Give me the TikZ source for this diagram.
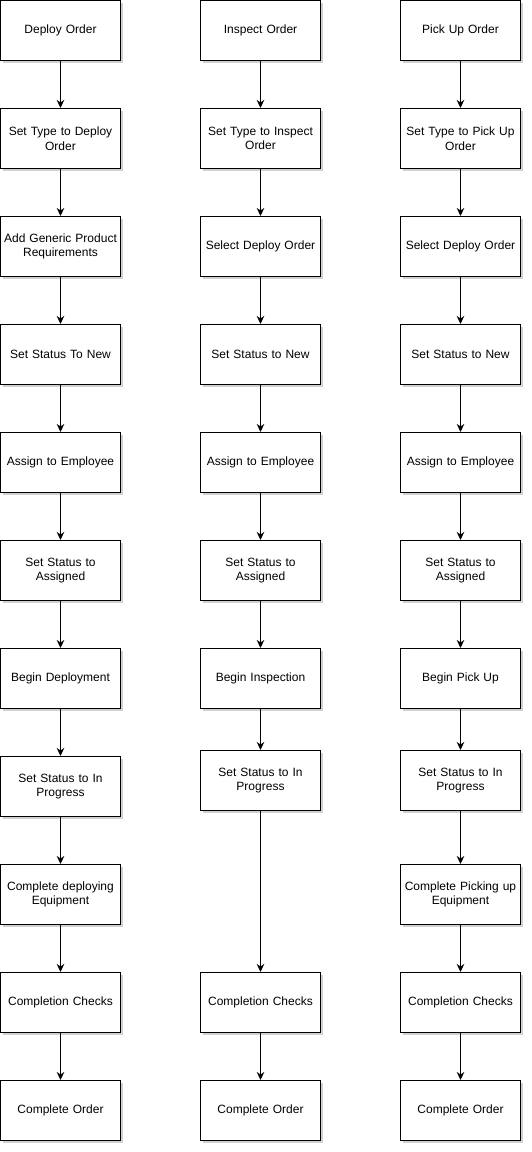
\documentclass[tikz,border=0pt]{standalone}
\usepackage{fontspec}
\setmainfont{Liberation Sans}
\usetikzlibrary{arrows.meta,shadows}

\begin{document}
\begin{tikzpicture}[->,>={Stealth[length=8pt,width=7.5pt,inset=2.5pt]},x=1pt,y=1pt,node distance=108pt,line width=1pt]
  \tikzstyle{task}=[draw,fill=white,minimum width=120pt,minimum height=60pt,text width=116pt,inner xsep=2pt,align=center,
    font=\fontsize{12}{14.5}\selectfont,drop shadow={shadow xshift=2pt,shadow yshift=-2pt,opacity=0.18,fill=black}]
  \useasboundingbox (0,0) rectangle (532,-1152);

  % deploy
  \node[task] (D1) at (60.5,-30.5) {Deploy Order};
  \node[task] (D2) [below of=D1] {Set Type to Deploy\\Order};
  \node[task] (D3) [below of=D2] {Add Generic Product\\Requirements};
  \node[task] (D4) [below of=D3] {Set Status To New};
  \node[task] (D5) [below of=D4] {Assign to Employee};
  \node[task] (D6) [below of=D5] {Set Status to\\Assigned};
  \node[task] (D7) [below of=D6] {Begin Deployment};
  \node[task] (D8) [below of=D7] {Set Status to In\\Progress};
  \node[task] (D9) [below of=D8] {Complete deploying\\Equipment};
  \node[task] (D10) [below of=D9] {Completion Checks};
  \node[task] (D11) [below of=D10] {Complete Order};

  % inspect
  \node[task] (I1) at (260.5,-30.5) {Inspect Order};
  \node[task] (I2) [below of=I1] {Set Type to Inspect\\Order};
  \node[task] (I3) [below of=I2] {Select Deploy Order};
  \node[task] (I4) [below of=I3] {Set Status to New};
  \node[task] (I5) [below of=I4] {Assign to Employee};
  \node[task] (I6) [below of=I5] {Set Status to\\Assigned};
  \node[task] (I7) [below of=I6] {Begin Inspection};
  \node[task] (I8) [below of=I7,node distance=102pt] {Set Status to In\\Progress};
  \node[task] (I9) [below of=I8,node distance=222pt] {Completion Checks};
  \node[task] (I10) [below of=I9] {Complete Order};

  % pick up
  \node[task] (P1) at (460.5,-30.5) {Pick Up Order};
  \node[task] (P2) [below of=P1] {Set Type to Pick Up\\Order};
  \node[task] (P3) [below of=P2] {Select Deploy Order};
  \node[task] (P4) [below of=P3] {Set Status to New};
  \node[task] (P5) [below of=P4] {Assign to Employee};
  \node[task] (P6) [below of=P5] {Set Status to\\Assigned};
  \node[task] (P7) [below of=P6] {Begin Pick Up};
  \node[task] (P8) [below of=P7,node distance=102pt] {Set Status to In\\Progress};
  \node[task] (P9) [below of=P8,node distance=114pt] {Complete Picking up\\Equipment};
  \node[task] (P10) [below of=P9] {Completion Checks};
  \node[task] (P11) [below of=P10] {Complete Order};

  \path
    (D1) edge (D2)
    (D2) edge (D3)
    (D3) edge (D4)
    (D4) edge (D5)
    (D5) edge (D6)
    (D6) edge (D7)
    (D7) edge (D8)
    (D8) edge (D9)
    (D9) edge (D10)
    (D10) edge (D11);
  \path
    (I1) edge (I2)
    (I2) edge (I3)
    (I3) edge (I4)
    (I4) edge (I5)
    (I5) edge (I6)
    (I6) edge (I7)
    (I7) edge (I8)
    (I8) edge (I9)
    (I9) edge (I10);
  \path
    (P1) edge (P2)
    (P2) edge (P3)
    (P3) edge (P4)
    (P4) edge (P5)
    (P5) edge (P6)
    (P6) edge (P7)
    (P7) edge (P8)
    (P8) edge (P9)
    (P9) edge (P10)
    (P10) edge (P11);
\end{tikzpicture}
\end{document}
